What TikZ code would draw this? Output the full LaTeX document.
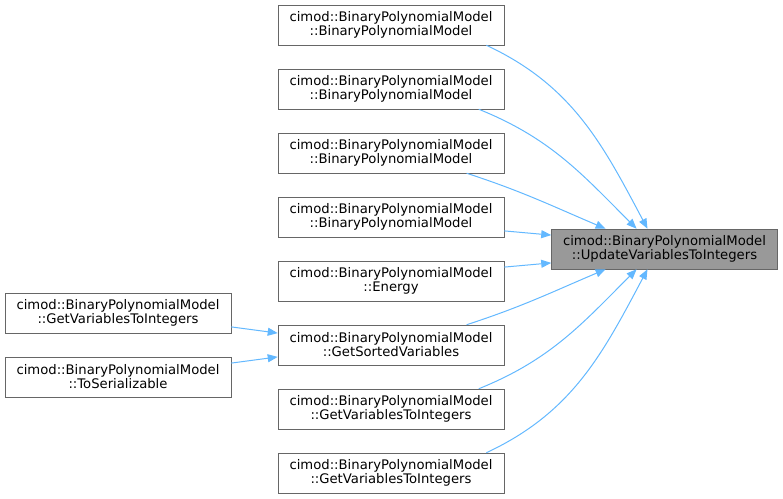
\documentclass[tikz,border=0pt]{standalone}
\usepackage{fontspec}
\setmainfont{DejaVu Sans}
\usetikzlibrary{arrows.meta}
\definecolor{edgeblue}{HTML}{63B8FF}
\definecolor{boxline}{HTML}{666666}
\definecolor{boxfill}{HTML}{999999}
\begin{document}
\begin{tikzpicture}[x=0.75pt,y=0.75pt,
  fn/.style={draw=boxline,fill=white,align=center,minimum width=169.5pt,minimum height=30pt,inner sep=2pt,font=\fontsize{9.9}{8.3}\selectfont},
  cur/.style={fn,fill=boxfill},
  call/.style={draw=edgeblue,line width=0.75pt,-{Triangle[length=7.5pt,width=6pt,fill=edgeblue]}}]
\useasboundingbox (0,0) rectangle (783,-499);
\node[cur] (upd) at (664.5,-249) {cimod::BinaryPolynomialModel\\::UpdateVariablesToIntegers};
\node[fn] (bpm1) at (391,-25) {cimod::BinaryPolynomialModel\\::BinaryPolynomialModel};
\node[fn] (bpm2) at (391,-89) {cimod::BinaryPolynomialModel\\::BinaryPolynomialModel};
\node[fn] (bpm3) at (391,-153) {cimod::BinaryPolynomialModel\\::BinaryPolynomialModel};
\node[fn] (bpm4) at (391,-217) {cimod::BinaryPolynomialModel\\::BinaryPolynomialModel};
\node[fn] (energy) at (391,-281) {cimod::BinaryPolynomialModel\\::Energy};
\node[fn] (sorted) at (391,-345) {cimod::BinaryPolynomialModel\\::GetSortedVariables};
\node[fn] (gvti1) at (391,-409) {cimod::BinaryPolynomialModel\\::GetVariablesToIntegers};
\node[fn] (gvti2) at (391,-473) {cimod::BinaryPolynomialModel\\::GetVariablesToIntegers};
\node[fn] (gvti3) at (118,-313) {cimod::BinaryPolynomialModel\\::GetVariablesToIntegers};
\node[fn] (toser) at (118,-377) {cimod::BinaryPolynomialModel\\::ToSerializable};
\draw[call] (bpm1.-12) to[out=-25,in=118] (upd.130);
\draw[call] (bpm2.-13) to[out=-22,in=135] (upd.144);
\draw[call] (bpm3.-15) to[out=-18,in=157] (upd.161);
\draw[call] (bpm4.-7) -- (upd.173);
\draw[call] (energy.7) -- (upd.187);
\draw[call] (sorted.15) to[out=18,in=203] (upd.199);
\draw[call] (gvti1.13) to[out=22,in=225] (upd.216);
\draw[call] (gvti2.12) to[out=25,in=242] (upd.230);
\draw[call] (gvti3.-7) -- (sorted.174);
\draw[call] (toser.7) -- (sorted.186);
\end{tikzpicture}
\end{document}
